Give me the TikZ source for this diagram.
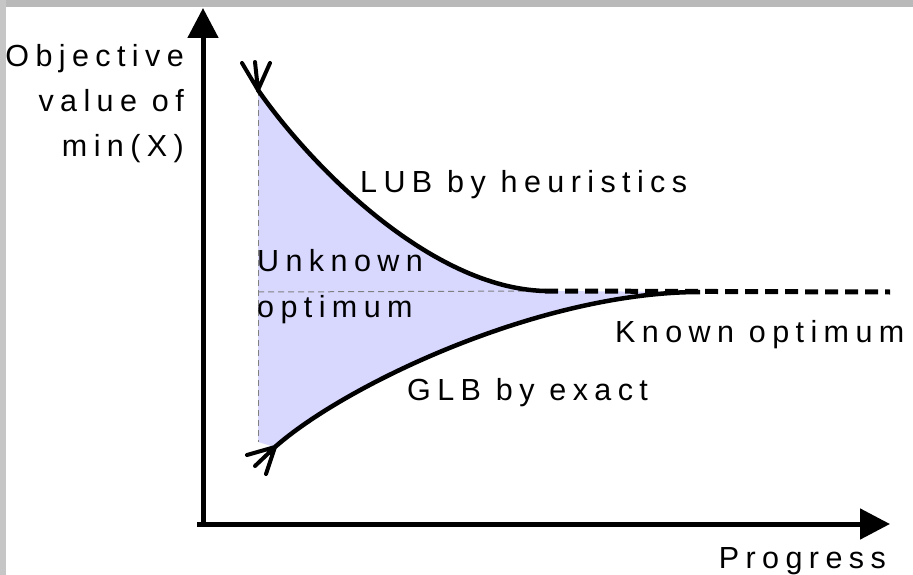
\documentclass[tikz,border=0pt]{standalone}
\usepackage{fontspec}
\setmainfont{Liberation Sans}[LetterSpace=21]
\usetikzlibrary{arrows.meta,positioning}
\definecolor{gapfill}{RGB}{216,216,255}

\begin{document}
\begin{tikzpicture}[x=1pt,y=-1pt,>=Triangle,every node/.style={font=\fontsize{30.5}{45}\selectfont,inner sep=0pt},axis/.style={->,line width=5pt,>={Triangle[length=30pt,width=30pt]}},bound/.style={line width=4.5pt},guide/.style={dashed,gray,line width=1pt,dash pattern=on 6pt off 4pt},known/.style={line width=5pt,dash pattern=on 13pt off 7pt},foot/.style={line width=4pt,line cap=round}]
\useasboundingbox (0,0) rectangle (913,575);
\fill[gray!55] (0,0) rectangle (913,7);
\fill[gray!45] (0,0) rectangle (6,575);
% axes
\coordinate (o) at (203,524);
\coordinate (ytop) at (203,8);
\coordinate (xend) at (890,524);
% bounds
\coordinate (ub) at (258,90);
\coordinate (lb) at (275,447);
\coordinate (meet) at (545,291);
\coordinate (opt) at (700,292);
\coordinate (far) at (890,292);
\fill[gapfill] (258,90) -- (ub) .. controls (310,165) and (430,288) .. (meet) -- (opt) .. controls (540,292) and (345,385) .. (lb) -- (258,442) -- cycle;
\draw[guide] (ub) -- (258,442);
\draw[guide] (258,292) -- (meet);
\draw[bound] (ub) .. controls (310,165) and (430,288) .. (meet);
\draw[bound] (lb) .. controls (345,385) and (540,292) .. (opt);
\draw[known] (meet) -- (far);
\draw[foot] (ub) -- ++(-16,-27) (ub) -- ++(-3,-28) (ub) -- ++(12,-27);
\draw[foot] (lb) -- ++(-28,8) (lb) -- ++(-20,19) (lb) -- ++(-9,27);
\draw[axis] (197,524) -- (xend);
\draw[axis] (o) -- (ytop);
% labels
\node[align=right,anchor=base east] (ylab) at (184,157) {Objective\\value of\\min(X)};
\node[anchor=base east] (xlab) at (886,568) {Progress};
\node[anchor=base west] (lub) at (360,192) {LUB by heuristics};
\node[anchor=base west] (unk) at (257,271) {Unknown};
\node[anchor=base west] (unk2) at (257,317) {optimum};
\node[anchor=base west] (kn) at (615,342) {Known optimum};
\node[anchor=base west] (glb) at (407,400) {GLB by exact};
\end{tikzpicture}
\end{document}
